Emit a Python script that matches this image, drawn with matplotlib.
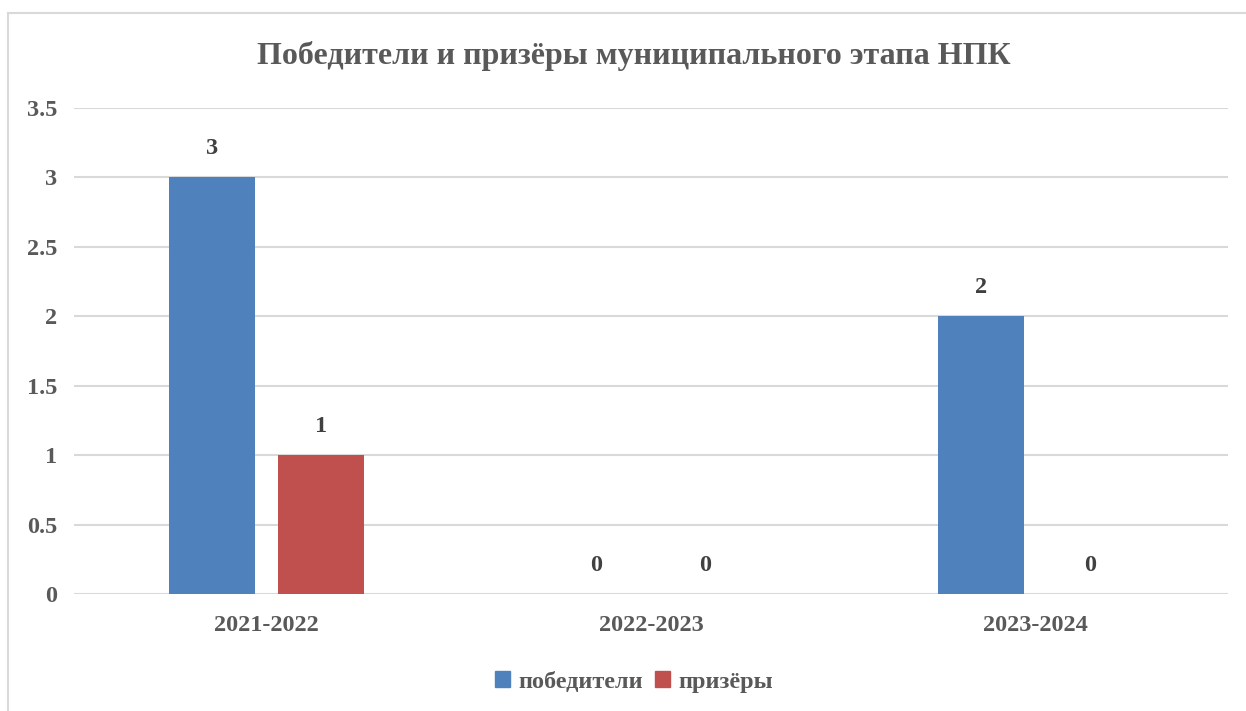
import matplotlib
matplotlib.use("Agg")
import matplotlib.pyplot as plt
from matplotlib.lines import Line2D
import numpy as np

categories = ["2021-2022", "2022-2023", "2023-2024"]
winners = [3, 0, 2]
prizers = [1, 0, 0]
series_names = ["победители", "призёры"]
yticks = [0, 0.5, 1, 1.5, 2, 2.5, 3, 3.5]
ytick_labels = ["0", "0.5", "1", "1.5", "2", "2.5", "3", "3.5"]
title = "Победители и призёры муниципального этапа НПК"

plt.rcParams['font.family'] = ['Liberation Serif', 'DejaVu Serif']
txt = "#595959"
fs = 17.5

fig = plt.figure(figsize=(12.46, 7.11), dpi=100)
ax = fig.add_axes([74/1246, 1-594/711, (1228-74)/1246, (594-108)/711])

x = np.arange(len(categories))
w = 0.224
off = 0.142
c1, c2 = "#4F81BD", "#C0504D"
b1 = ax.bar(x - off, winners, w, color=c1, zorder=3)
b2 = ax.bar(x + off, prizers, w, color=c2, zorder=3)

for bars in (b1, b2):
    for r in bars:
        h = r.get_height()
        ax.annotate(f"{h:g}", (r.get_x() + r.get_width()/2, h), xytext=(0, 13),
                    textcoords="offset points", ha="center", va="bottom",
                    fontsize=fs, fontweight="bold", color="#404040")

ax.set_xlim(-0.5, 2.5)
ax.set_ylim(0, 3.5)
ax.set_yticks(yticks)
ax.set_yticklabels(ytick_labels)
ax.set_xticks(x)
ax.set_xticklabels(categories)
ax.tick_params(axis="both", length=0, labelsize=fs, colors=txt)
ax.tick_params(axis="y", pad=12)
ax.tick_params(axis="x", pad=15)
for lab in ax.get_xticklabels() + ax.get_yticklabels():
    lab.set_fontweight("bold")
ax.grid(axis="y", color="#D9D9D9", linewidth=1.5, zorder=0)
for s in ax.spines.values():
    s.set_visible(False)

fig.text(634/1246, 1-56/711, title, ha="center", va="center", fontsize=23,
         fontweight="bold", color=txt)

handles = [plt.Rectangle((0, 0), 1, 1, color=c1), plt.Rectangle((0, 0), 1, 1, color=c2)]
fig.legend(handles, series_names, loc="center", bbox_to_anchor=(634/1246, 1-682/711),
           ncol=2, frameon=False, prop={"weight": "bold", "size": fs},
           handlelength=0.6, handleheight=0.6, handletextpad=0.35, columnspacing=0.5,
           labelcolor=txt)

# outer chart border (partially cropped in reference)
fig.add_artist(Line2D([8/1246, 1.0], [1-13/711, 1-13/711], transform=fig.transFigure,
                      color="#D9D9D9", linewidth=1.5))
fig.add_artist(Line2D([8/1246, 8/1246], [0.0, 1-13/711], transform=fig.transFigure,
                      color="#D9D9D9", linewidth=1.5))

fig.savefig("out.png", dpi=100)
